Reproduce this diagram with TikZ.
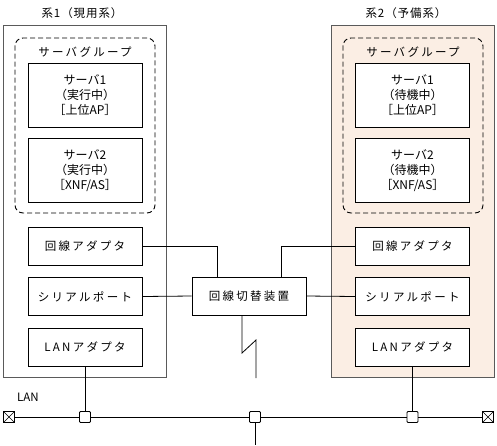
\documentclass[tikz,border=0pt]{standalone}
\usepackage{fontspec}
\setmainfont{Noto Sans CJK JP}
\newfontfamily\jpw[LetterSpace=20]{Noto Sans CJK JP}
\newfontfamily\jpt[LetterSpace=8]{Noto Sans CJK JP}
\definecolor{peach}{RGB}{251,238,228}
\definecolor{frame}{RGB}{90,90,90}
\begin{document}
\begin{tikzpicture}[x=1pt,y=-1pt,
  sysbox/.style={draw=frame, line width=0.9pt, minimum width=163pt, minimum height=352pt, inner sep=0pt},
  grpbox/.style={draw, dash pattern=on 5pt off 3pt, line width=0.9pt, rounded corners=8pt, minimum width=140pt, minimum height=175pt, inner sep=0pt},
  srvbox/.style={draw, line width=0.8pt, fill=white, minimum width=114pt, minimum height=64pt, inner sep=0pt, align=center, font=\fontsize{12}{15}\selectfont},
  unitbox/.style={draw, line width=0.8pt, fill=white, minimum width=114pt, minimum height=38pt, inner sep=0pt, font=\jpw\fontsize{11.5}{14}\selectfont},
  lbl/.style={inner sep=0pt, font=\jpw\fontsize{11.5}{14}\selectfont},
  ttl/.style={inner sep=0pt, font=\jpt\fontsize{11.5}{14}\selectfont},
  conn/.style={line width=0.8pt},
  junc/.style={draw, line width=0.8pt, fill=white, rounded corners=1pt, minimum size=11pt, inner sep=0pt},
  term/.style={draw, line width=0.8pt, fill=white, minimum size=11pt, inner sep=0pt,
    path picture={\draw[line width=0.6pt] (path picture bounding box.south west) -- (path picture bounding box.north east)
      (path picture bounding box.north west) -- (path picture bounding box.south east);}}
]
\useasboundingbox (0,0) rectangle (497,445);

% titles
\node[ttl] (t1) at (82,13) {系1（現用系）};
\node[ttl] (t2) at (406,13) {系2（予備系）};

% system boxes
\node[sysbox] (sys1) at (85.25,201) {};
\node[sysbox, fill=peach] (sys2) at (413,201) {};

% server groups
\node[grpbox] (grp1) at (85,125.5) {};
\node[grpbox] (grp2) at (413,125.5) {};
\node[lbl] (g1) at (85,52) {サーバグループ};
\node[lbl] (g2) at (413,52) {サーバグループ};

% servers
\node[srvbox] (s11) at (85,95) {サーバ1\\（実行中）\\［上位AP］};
\node[srvbox] (s12) at (85,170.5) {サーバ2\\（実行中）\\［XNF/AS］};
\node[srvbox] (s21) at (412.5,95) {サーバ1\\（待機中）\\［上位AP］};
\node[srvbox] (s22) at (412.5,170.5) {サーバ2\\（待機中）\\［XNF/AS］};

% units
\node[unitbox] (ra1) at (85,246) {回線アダプタ};
\node[unitbox] (sp1) at (85,296.5) {シリアルポート};
\node[unitbox] (la1) at (85,347) {LANアダプタ};
\node[unitbox] (ra2) at (412.5,246) {回線アダプタ};
\node[unitbox] (sp2) at (412.5,296.5) {シリアルポート};
\node[unitbox] (la2) at (412.5,347) {LANアダプタ};

% line switcher
\node[unitbox] (sw) at (249,296) {回線切替装置};

% connectors to switcher
\draw[conn] (ra1.east) -| ([xshift=-32pt]sw.north);
\draw[conn] ([xshift=32pt]sw.north) |- (ra2.west);
\draw[conn] (sp1.east) -- (sw.west);
\draw[conn] (sw.east) -- (sp2.west);

% lightning line
\coordinate (lz1) at (242,353);
\coordinate (lz2) at (256,340);
\coordinate (lzend) at (256,378);
\draw[conn] ([xshift=-7pt]sw.south) -- (lz1) -- (lz2) -- (lzend);

% LAN
\node[inner sep=0pt, font=\fontsize{11.5}{14}\selectfont] (lanl) at (28,397) {LAN};
\node[term] (tl) at (9,417) {};
\node[term] (tr) at (488,417) {};
\node[junc] (j1) at (85,417) {};
\node[junc] (j2) at (255,417) {};
\node[junc] (j3) at (412.5,417) {};
\draw[conn] (tl) -- (j1) -- (j2) -- (j3) -- (tr);
\draw[conn] (la1.south) -- (j1.north);
\draw[conn] (la2.south) -- (j3.north);
\coordinate (jdown) at (255,445);
\draw[conn] (j2.south) -- (jdown);
\end{tikzpicture}
\end{document}
